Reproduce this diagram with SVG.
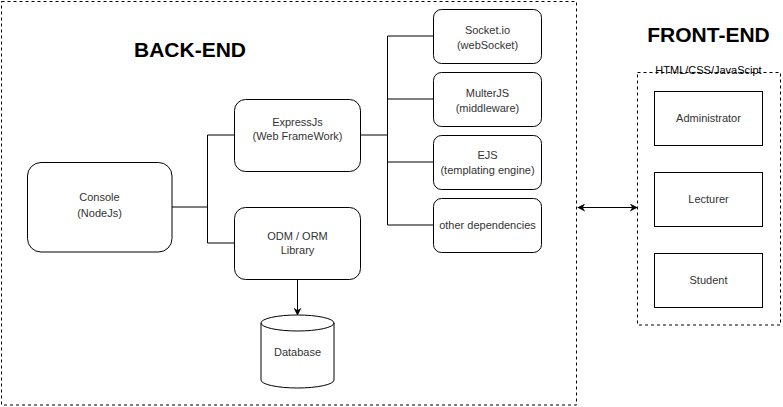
<svg xmlns="http://www.w3.org/2000/svg" width="783" height="407" viewBox="0 0 783 407">
<style>
.box{fill:#fff;stroke:#000;stroke-width:1}
.grp{fill:none;stroke:#000;stroke-width:1;stroke-dasharray:3 3}
.t{font-family:"Liberation Sans",Arial,sans-serif;font-size:11px;fill:#333;text-anchor:middle}
.title{font-family:"Liberation Sans",Arial,sans-serif;font-size:21px;font-weight:bold;fill:#000;text-anchor:middle}
.ln{fill:none;stroke:#000;stroke-width:1}
</style>
<defs>
<marker id="arr" viewBox="0 0 10 10" refX="9" refY="5" markerWidth="8" markerHeight="8" markerUnits="userSpaceOnUse" orient="auto-start-reverse">
<path d="M0,0 L10,5 L0,10 L3,5 Z" fill="#000"/>
</marker>
</defs>
<rect width="783" height="407" fill="#fff"/>
<g id="backend-group">
<rect class="grp" x="1.5" y="1.5" width="575" height="403.5"/>
<text class="title" x="190" y="57">BACK-END</text>
</g>
<g id="frontend-group">
<text class="title" x="708.5" y="42">FRONT-END</text>
<rect class="grp" x="637.5" y="72.5" width="143" height="252.5"/>
<text class="t" x="708.5" y="74" style="fill:#000">HTML/CSS/JavaScipt</text>
</g>
<g id="connectors">
<polyline class="ln" points="172,207 207,207"/>
<polyline class="ln" points="234,135 207.5,135 207.5,243 234,243"/>
<polyline class="ln" points="360,135 387.5,135"/>
<polyline class="ln" points="433,36 387.5,36 387.5,225 433,225"/>
<line class="ln" x1="387.5" y1="99" x2="433" y2="99"/>
<line class="ln" x1="387.5" y1="162" x2="433" y2="162"/>
<line class="ln" x1="297.5" y1="279" x2="297.5" y2="315" marker-end="url(#arr)"/>
<line class="ln" x1="578" y1="207.5" x2="637" y2="207.5" marker-start="url(#arr)" marker-end="url(#arr)"/>
</g>
<g id="console">
<rect class="box" x="27.5" y="162.5" width="144.5" height="89.5" rx="13.5"/>
<text class="t" x="99.5" y="201">Console</text>
<text class="t" x="99.5" y="217">(NodeJs)</text>
</g>
<g id="expressjs">
<rect class="box" x="234.5" y="99.5" width="126" height="72" rx="11"/>
<text class="t" x="297.5" y="126">ExpressJs</text>
<text class="t" x="297.5" y="140">(Web FrameWork)</text>
</g>
<g id="odm">
<rect class="box" x="234.5" y="207.5" width="126" height="72" rx="11"/>
<text class="t" x="297.5" y="239.5">ODM / ORM</text>
<text class="t" x="297.5" y="254">Library</text>
</g>
<g id="database">
<path class="box" d="M261,323 A36.5,8 0 0 1 334,323 L334,380 A36.5,8 0 0 1 261,380 Z"/>
<path class="ln" d="M261,323 A36.5,8 0 0 0 334,323"/>
<text class="t" x="297.5" y="356">Database</text>
</g>
<g id="socketio">
<rect class="box" x="433.5" y="9.5" width="108" height="54" rx="8"/>
<text class="t" x="487.5" y="33.5">Socket.io</text>
<text class="t" x="487.5" y="48.5">(webSocket)</text>
</g>
<g id="multerjs">
<rect class="box" x="433.5" y="72.5" width="108" height="54" rx="8"/>
<text class="t" x="487.5" y="97">MulterJS</text>
<text class="t" x="487.5" y="111.5">(middleware)</text>
</g>
<g id="ejs">
<rect class="box" x="433.5" y="135.5" width="108" height="54" rx="8"/>
<text class="t" x="487.5" y="159">EJS</text>
<text class="t" x="487.5" y="174">(templating engine)</text>
</g>
<g id="other">
<rect class="box" x="433.5" y="198.5" width="108" height="54" rx="8"/>
<text class="t" x="487.5" y="229">other dependencies</text>
</g>
<g id="administrator">
<rect class="box" x="654.5" y="91.5" width="108" height="54"/>
<text class="t" x="708.5" y="122">Administrator</text>
</g>
<g id="lecturer">
<rect class="box" x="654.5" y="172.5" width="108" height="54"/>
<text class="t" x="708.5" y="203">Lecturer</text>
</g>
<g id="student">
<rect class="box" x="654.5" y="253.5" width="108" height="54"/>
<text class="t" x="708.5" y="284">Student</text>
</g>
</svg>
